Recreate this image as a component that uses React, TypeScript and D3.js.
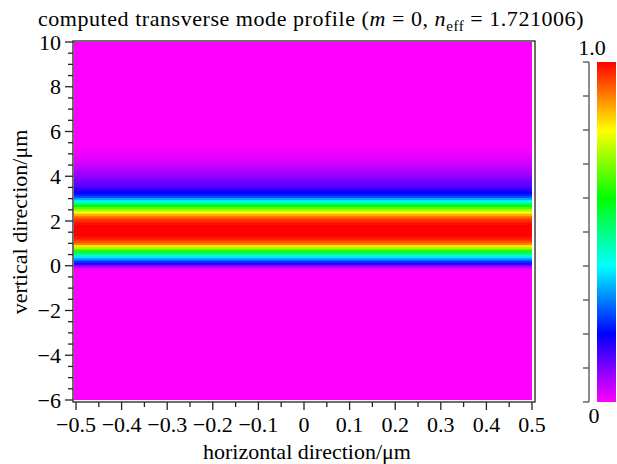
import React from "react";
import * as d3 from "d3";

// vertical profile sample positions (µm) and normalized mode intensity
const profileY = [
  -0.3, -0.2, -0.1, 0.0, 0.1, 0.2, 0.3, 0.4, 0.5, 0.6, 0.7, 0.8, 0.9, 1.0, 1.1, 1.2, 1.3, 1.4, 1.5,
  1.6, 1.7, 1.8, 1.9, 2.0, 2.1, 2.2, 2.3, 2.4, 2.5, 2.6, 2.7, 2.8, 2.9, 3.0, 3.1, 3.2, 3.3, 3.4,
  3.5, 3.6, 3.7, 3.8, 3.9, 4.0, 4.1, 4.2, 4.3, 4.4, 4.5, 4.6, 4.7, 4.8, 4.9, 5.0, 5.1, 5.2, 5.3,
  5.4, 5.5, 5.6,
];
const profileV = [
  0, 0, 0.02, 0.08, 0.17, 0.24, 0.31, 0.38, 0.46, 0.54, 0.63, 0.73, 0.82, 0.9, 0.94, 0.97, 0.99, 1.0, 1.0,
  1.0, 1.0, 1.0, 0.99, 0.97, 0.95, 0.91, 0.86, 0.8, 0.73, 0.66, 0.59, 0.5, 0.41, 0.33, 0.26, 0.22, 0.2, 0.17,
  0.15, 0.13, 0.12, 0.11, 0.1, 0.09, 0.08, 0.07, 0.06, 0.05, 0.04, 0.035, 0.03, 0.025, 0.02, 0.015, 0.01, 0.008, 0.005,
  0.003, 0.001, 0,
];

const xMajorTicks = [-0.5, -0.4, -0.3, -0.2, -0.1, 0, 0.1, 0.2, 0.3, 0.4, 0.5];
const xTickLabels = ["−0.5", "−0.4", "−0.3", "−0.2", "−0.1", "0", "0.1", "0.2", "0.3", "0.4", "0.5"];
const yMajorTicks = [-6, -4, -2, 0, 2, 4, 6, 8, 10];
const yTickLabels = ["−6", "−4", "−2", "0", "2", "4", "6", "8", "10"];
const cbTicks = [0, 0.1, 0.2, 0.3, 0.4, 0.5, 0.6, 0.7, 0.8, 0.9, 1.0];

const W = 617;
const H = 464;
const FONT = "'Liberation Serif', 'Times New Roman', serif";
const FS = 22;

const color = (v: number) => d3.hsl(300 * (1 - v), 1, 0.5).formatHex();

export default function App() {
  const x = d3.scaleLinear().domain([-0.5, 0.5]).range([76, 532]);
  const y = d3.scaleLinear().domain([-6, 10]).range([400, 42]);
  const cb = d3.scaleLinear().domain([0, 1]).range([402, 62]);

  const xMinor = d3.range(-0.5, 0.5001, 0.05).map((v) => +v.toFixed(3));
  const yMinor = d3.range(-6, 10.001, 0.5).map((v) => +v.toFixed(3));

  const heatLeft = x(-0.5) - 2;
  const heatRight = x(0.5);
  const gradStops = d3.range(0, 1.0001, 0.02);

  return (
    <svg width={W} height={H} style={{ position: "absolute", left: 0, top: 0 }} fontFamily={FONT}>
      <defs>
        <linearGradient id="cbgrad" x1="0" y1="1" x2="0" y2="0">
          {gradStops.map((s, i) => (
            <stop key={i} offset={s} stopColor={color(s)} />
          ))}
        </linearGradient>
      </defs>
      <rect x={0} y={0} width={W} height={H} fill="white" />
      {/* title */}
      <text x={311} y={26} fontSize={FS} textAnchor="middle" letterSpacing={0.55}>
        computed transverse mode profile (<tspan fontStyle="italic">m</tspan> = 0,{" "}
        <tspan fontStyle="italic">n</tspan>
        <tspan fontSize={15} dy={5}>eff</tspan>
        <tspan dy={-5}> = 1.721006)</tspan>
      </text>

      {/* heatmap background (zero field) */}
      <rect x={heatLeft} y={y(10)} width={heatRight - heatLeft} height={y(-6) - y(10)} fill={color(0)} />
      {profileY.map((py, i) => {
        const y0 = y(py + 0.05);
        const y1 = y(py - 0.05);
        return (
          <rect key={i} x={heatLeft} y={y0} width={heatRight - heatLeft} height={y1 - y0 + 0.5} fill={color(profileV[i])} />
        );
      })}

      {/* frame */}
      <rect x={73} y={41} width={462} height={361} fill="none" stroke="#222" strokeWidth={1.3} />

      {/* y axis ticks */}
      {yMinor.map((t, i) => {
        const major = yMajorTicks.includes(t);
        return <line key={i} x1={73 - (major ? 8 : 5)} x2={73} y1={y(t)} y2={y(t)} stroke="#222" strokeWidth={1.3} />;
      })}
      {yMajorTicks.map((t, i) => (
        <text key={i} x={61} y={y(t) + 7.5} fontSize={FS} textAnchor="end">
          {yTickLabels[i]}
        </text>
      ))}
      <text transform={`translate(27,222) rotate(-90)`} fontSize={FS} textAnchor="middle">
        vertical direction/μm
      </text>

      {/* x axis ticks */}
      {xMinor.map((t, i) => {
        const major = xMajorTicks.some((m) => Math.abs(m - t) < 1e-6);
        return <line key={i} x1={x(t)} x2={x(t)} y1={402} y2={402 + (major ? 8 : 5)} stroke="#222" strokeWidth={1.3} />;
      })}
      {xMajorTicks.map((t, i) => (
        <text key={i} x={x(t)} y={432} fontSize={FS} textAnchor="middle">
          {xTickLabels[i]}
        </text>
      ))}
      <text x={307} y={459} fontSize={FS} textAnchor="middle">
        horizontal direction/μm
      </text>

      {/* colorbar */}
      <rect x={597} y={cb(1)} width={19} height={cb(0) - cb(1)} fill="url(#cbgrad)" />
      <line x1={589} x2={589} y1={cb(1)} y2={cb(0)} stroke="#666" strokeWidth={1.5} />
      {cbTicks.map((t, i) => (
        <line key={i} x1={583} x2={589} y1={cb(t)} y2={cb(t)} stroke="#666" strokeWidth={1.5} />
      ))}
      <text x={592} y={55} fontSize={FS} textAnchor="middle">1.0</text>
      <text x={594} y={423} fontSize={FS} textAnchor="middle">0</text>
    </svg>
  );
}
